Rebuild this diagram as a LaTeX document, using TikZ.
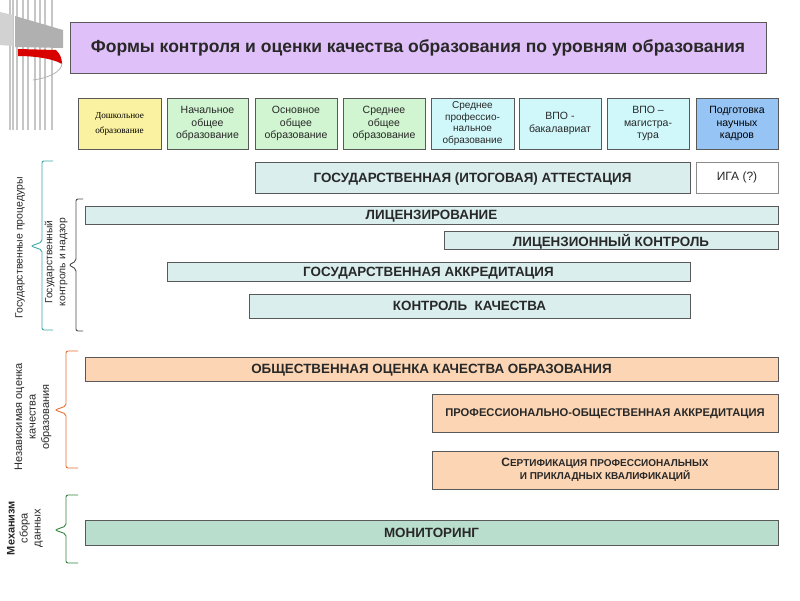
\documentclass[tikz,border=0pt]{standalone}
\usepackage{fontspec}
\setmainfont{Liberation Sans}
\newfontfamily\serifru{Liberation Serif}
\definecolor{titlec}{RGB}{224,192,248}
\definecolor{yelc}{RGB}{250,242,160}
\definecolor{grnc}{RGB}{208,245,208}
\definecolor{cyac}{RGB}{208,248,250}
\definecolor{bluc}{RGB}{150,196,244}
\definecolor{rowc}{RGB}{218,238,238}
\definecolor{orac}{RGB}{252,214,180}
\definecolor{monc}{RGB}{185,222,205}
\definecolor{tealb}{RGB}{60,168,168}
\definecolor{orab}{RGB}{232,110,50}
\definecolor{grnb}{RGB}{50,130,60}
\definecolor{txt}{RGB}{40,40,40}
\newcommand\bxat[7]{\node[#1, minimum width=#4pt, minimum height=#5pt] (#6) at (#2,#3) {#7};}
\newcommand\brk[7]{\draw[#1, line width=0.9pt, rounded corners=2pt] (#7,#3) -- (#2,#3) -- (#2,#5-4) -- (#6,#5) -- (#2,#5+4) -- (#2,#4) -- (#7,#4);}
\begin{document}
\begin{tikzpicture}[x=1pt,y=-1pt,
  bx/.style={draw=black!65, line width=0.9pt, inner sep=0pt, outer sep=0pt, anchor=north west, text=txt, align=center},
  lvl/.style={bx, font=\fontsize{10.5}{12.5}\selectfont},
  row/.style={bx, fill=rowc, text depth=0pt, font=\bfseries\fontsize{13.4}{15}\selectfont},
  orow/.style={bx, fill=orac},
  side/.style={rotate=90, align=center, text=txt, font=\fontsize{10.5}{13}\selectfont, inner sep=0pt}
]
\useasboundingbox (0,0) rectangle (800,600);
% decoration
\foreach \xx in {10,13,17,23,28,35,40,45,52} \draw[gray!45, line width=1.1pt] (\xx,0) -- (\xx,130);
\fill[gray!35] (0,12) -- (13,15) -- (13,46) -- (0,45) -- cycle;
\fill[gray!62] (15,16) -- (63,30) -- (63,48) -- (15,47) -- cycle;
\fill[red!85!black] (18,49) -- (56,50) .. controls (60,54) and (62,58) .. (62,64) .. controls (52,58) and (32,56) .. (18,56) -- cycle;
\draw[gray!60, line width=0.8pt] (62,63) .. controls (62,72) and (48,78) .. (33,80);
% title
\bxat{bx, fill=titlec, font=\bfseries\fontsize{17.5}{19}\selectfont}{70}{22}{696}{51}{title}{Формы контроля и оценки качества образования по уровням образования}
% levels
\bxat{lvl, fill=yelc, font=\serifru\fontsize{9.2}{15}\selectfont, text={RGB:red,50;green,40;blue,10}}{78}{98}{83}{51}{l1}{Дошкольное\\образование}
\bxat{lvl, fill=grnc}{167}{98}{81}{51}{l2}{Начальное\\общее\\образование}
\bxat{lvl, fill=grnc}{255}{98}{82}{51}{l3}{Основное\\общее\\образование}
\bxat{lvl, fill=grnc}{343}{98}{82}{51}{l4}{Среднее\\общее\\образование}
\bxat{lvl, fill=cyac, font=\fontsize{10}{11.6}\selectfont}{431}{98}{83}{51}{l5}{Среднее\\профессио-\\нальное\\образование}
\bxat{lvl, fill=cyac}{519}{98}{82}{51}{l6}{ВПО -\\бакалавриат}
\bxat{lvl, fill=cyac}{607}{98}{82}{51}{l7}{ВПО –\\магистра-\\тура}
\bxat{lvl, fill=bluc, text={RGB:red,30;green,30;blue,80}}{696}{98}{82}{51}{l8}{Подготовка\\научных\\кадров}
% state rows
\bxat{row}{255}{162}{435}{31}{gia}{ГОСУДАРСТВЕННАЯ (ИТОГОВАЯ) АТТЕСТАЦИЯ}
\bxat{bx, draw=black!45, fill=white, font=\fontsize{12}{14}\selectfont}{696}{162}{82}{31}{iga}{ИГА (?)}
\bxat{row}{85}{206}{693}{18}{lic}{ЛИЦЕНЗИРОВАНИЕ}
\bxat{row}{444}{231}{334}{18}{licc}{ЛИЦЕНЗИОННЫЙ КОНТРОЛЬ}
\bxat{row}{167}{262}{523}{19}{akkr}{ГОСУДАРСТВЕННАЯ АККРЕДИТАЦИЯ}
\bxat{row}{249}{294}{441}{24}{kk}{КОНТРОЛЬ\ \ КАЧЕСТВА}
% public rows
\bxat{orow, text depth=0pt, font=\bfseries\fontsize{13.4}{15}\selectfont}{85}{357}{693}{24}{obsh}{ОБЩЕСТВЕННАЯ ОЦЕНКА КАЧЕСТВА ОБРАЗОВАНИЯ}
\bxat{orow, text depth=0pt, font=\bfseries\fontsize{11.2}{13}\selectfont}{432}{394}{346}{38}{prof}{ПРОФЕССИОНАЛЬНО-ОБЩЕСТВЕННАЯ АККРЕДИТАЦИЯ}
\bxat{orow, font=\bfseries\fontsize{10}{13}\selectfont}{432}{451}{346}{38}{sert}{{\fontsize{12}{13}\selectfont С}ЕРТИФИКАЦИЯ ПРОФЕССИОНАЛЬНЫХ\\И ПРИКЛАДНЫХ КВАЛИФИКАЦИЙ}
\bxat{row, fill=monc}{85}{520}{693}{25}{mon}{МОНИТОРИНГ}
% brackets
\brk{tealb}{42}{161}{330}{246}{31}{53}
\brk{black!70}{76}{199}{331}{265}{69}{83}
\brk{orab}{66}{351}{468}{410}{55}{78}
\brk{grnb}{66}{495}{563}{530}{55}{78}
% side labels
\node[side] (s1) at (20,248) {Государственные процедуры};
\node[side, font=\fontsize{10.3}{13}\selectfont] (s2) at (56,262) {Государственный\\контроль и надзор};
\node[side, font=\fontsize{11}{13.5}\selectfont] (s3) at (33,417) {Независимая оценка\\качества\\образования};
\node[side, font=\fontsize{11}{13}\selectfont] (s4) at (25,528) {\textbf{Механизм}\\сбора\\данных};
\end{tikzpicture}
\end{document}
